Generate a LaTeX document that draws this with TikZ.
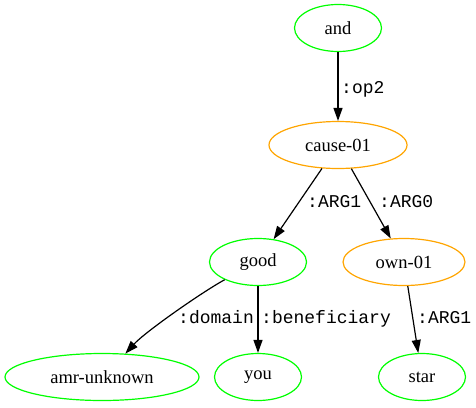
\documentclass[tikz,border=0pt]{standalone}
\usepackage{fontspec}
\setmainfont{Liberation Serif}
\setmonofont{Liberation Mono}
\usetikzlibrary{shapes.geometric,arrows.meta}
\definecolor{gvgreen}{HTML}{00FF00}
\definecolor{gvorange}{HTML}{FFA500}
\tikzset{
  concept/.style={ellipse, draw=gvgreen, line width=1.2pt, inner sep=0pt, minimum height=47pt, font=\fontsize{18.5}{20}\selectfont},
  pred/.style={concept, draw=gvorange},
  rel/.style={-{Triangle[length=13pt,width=9pt]}, line width=1.2pt, black},
  lab/.style={anchor=base west, inner sep=0pt, font=\ttfamily\fontsize{18}{20}\selectfont}
}
\begin{document}
\begin{tikzpicture}[x=1pt,y=-1pt]
\useasboundingbox (0,0) rectangle (476,407);
\node[concept, minimum width=87pt] (and) at (338,28) {and};
\node[pred, minimum width=138pt] (cause) at (338,145) {cause-01};
\node[concept, minimum width=97pt] (good) at (258,262) {good};
\node[pred, minimum width=122pt] (own) at (404,262) {own-01};
\node[concept, minimum width=194pt] (amr) at (102,377) {amr-unknown};
\node[concept, minimum width=87pt] (you) at (258,377) {you};
\node[concept, minimum width=87pt] (star) at (422,377) {star};

\draw[rel] (and) -- (cause);
\draw[rel] (cause) -- (good);
\draw[rel] (cause) -- (own);
\draw[rel] (good.208) .. controls +(-22,12) and +(20,-22) .. (amr.45);
\draw[rel] (good) -- (you);
\draw[rel] (own) -- (star);

\node[lab] (lop2) at (341,93) {:op2};
\node[lab] (larg1) at (307,207) {:ARG1};
\node[lab] (larg0) at (379,207) {:ARG0};
\node[lab] (ldom) at (178,323) {:domain};
\node[lab] (lben) at (261,323) {:beneficiary};
\node[lab] (larg1b) at (417,323) {:ARG1};
\end{tikzpicture}
\end{document}
